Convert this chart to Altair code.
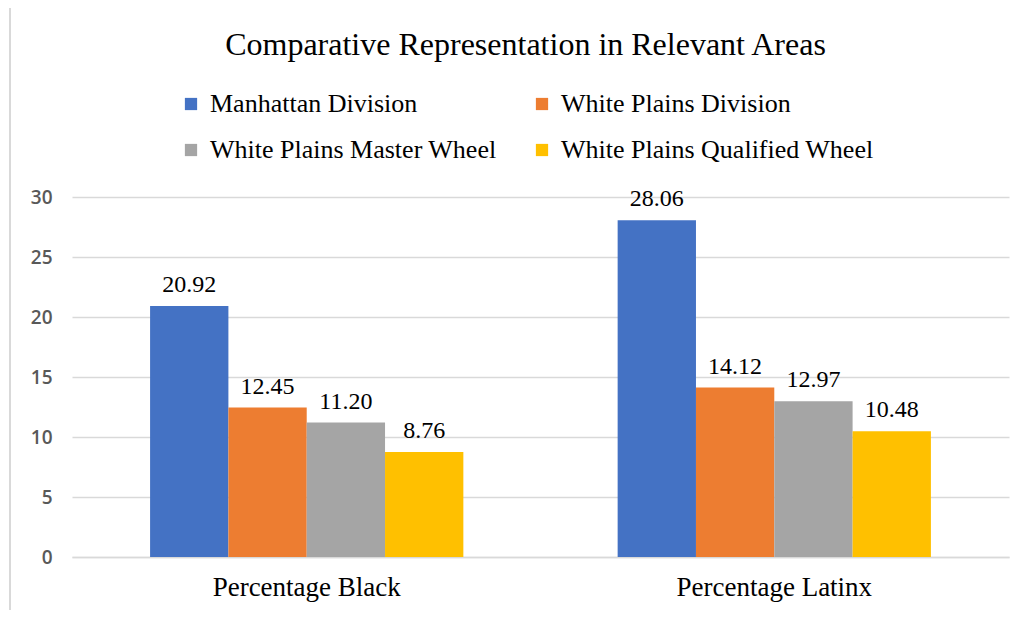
import altair as alt
import pandas as pd

categories = ["Percentage Black", "Percentage Latinx"]
series = ["Manhattan Division", "White Plains Division",
          "White Plains Master Wheel", "White Plains Qualified Wheel"]
values_black = [20.92, 12.45, 11.20, 8.76]
values_latinx = [28.06, 14.12, 12.97, 10.48]
colors = ["#4472C4", "#ED7D31", "#A5A5A5", "#FFC000"]

rows = []
for s, v in zip(series, values_black):
    rows.append({"category": categories[0], "series": s, "value": v})
for s, v in zip(series, values_latinx):
    rows.append({"category": categories[1], "series": s, "value": v})
df = pd.DataFrame(rows)

SERIF = "Liberation Serif"

x_enc = alt.X("category:N", sort=categories, title=None,
              scale=alt.Scale(paddingInner=0.33, paddingOuter=0.167),
              axis=alt.Axis(labelAngle=0, labelFont=SERIF, labelFontSize=27,
                            labelColor="#000000", labelPadding=17, ticks=False,
                            labelLimit=600,
                            domainColor="#d9d9d9", domainWidth=1.5, grid=False))
y_enc = alt.Y("value:Q", title=None,
              scale=alt.Scale(domain=[0, 30]),
              axis=alt.Axis(values=[0, 5, 10, 15, 20, 25, 30], labelFont="Open Sans",
                            labelFontSize=19, labelFontWeight=600,
                            labelColor="#595959", labelPadding=20,
                            ticks=False, domain=False, gridColor="#d9d9d9",
                            gridWidth=1.5))
xoff = alt.XOffset("series:N", sort=series)

bars = alt.Chart(df).mark_bar().encode(
    x=x_enc, y=y_enc, xOffset=xoff,
    color=alt.Color("series:N", sort=series,
                    scale=alt.Scale(domain=series, range=colors),
                    legend=alt.Legend(title=None, orient="none", legendX=106, legendY=-106,
                                      direction="horizontal",
                                      columns=2, columnPadding=32, rowPadding=20,
                                      symbolType="square", symbolSize=150,
                                      symbolStrokeWidth=0, labelFont=SERIF,
                                      labelFontSize=26, labelColor="#000000",
                                      labelLimit=500, labelOffset=6)),
)

labels = alt.Chart(df).mark_text(font=SERIF, fontSize=24, color="#000000",
                                 baseline="alphabetic", dy=-14).encode(
    x=alt.X("category:N", sort=categories), y="value:Q", xOffset=xoff,
    text=alt.Text("value:Q", format=".2f"),
)

border = alt.Chart(pd.DataFrame({"a": [0]})).mark_rect(
    fill=None, stroke="#d9d9d9", strokeWidth=2).encode(
    x=alt.value(-62), x2=alt.value(1200), y=alt.value(-192), y2=alt.value(1000))

chart = alt.layer(border, bars, labels).properties(
    width=937, height=360,
    title=alt.TitleParams("Comparative Representation in Relevant Areas",
                          font=SERIF, fontSize=32, fontWeight="normal",
                          color="#000000", anchor="middle", dx=-15, offset=-58),
    autosize=alt.AutoSizeParams(type="none"),
    padding={"left": 64, "top": 189, "right": 12, "bottom": 53},
).configure(font=SERIF).configure_view(stroke=None).configure_legend(
    labelFont=SERIF
).configure_text(font=SERIF)

chart.save("out.html", embed_options={"renderer": "svg", "actions": False})
